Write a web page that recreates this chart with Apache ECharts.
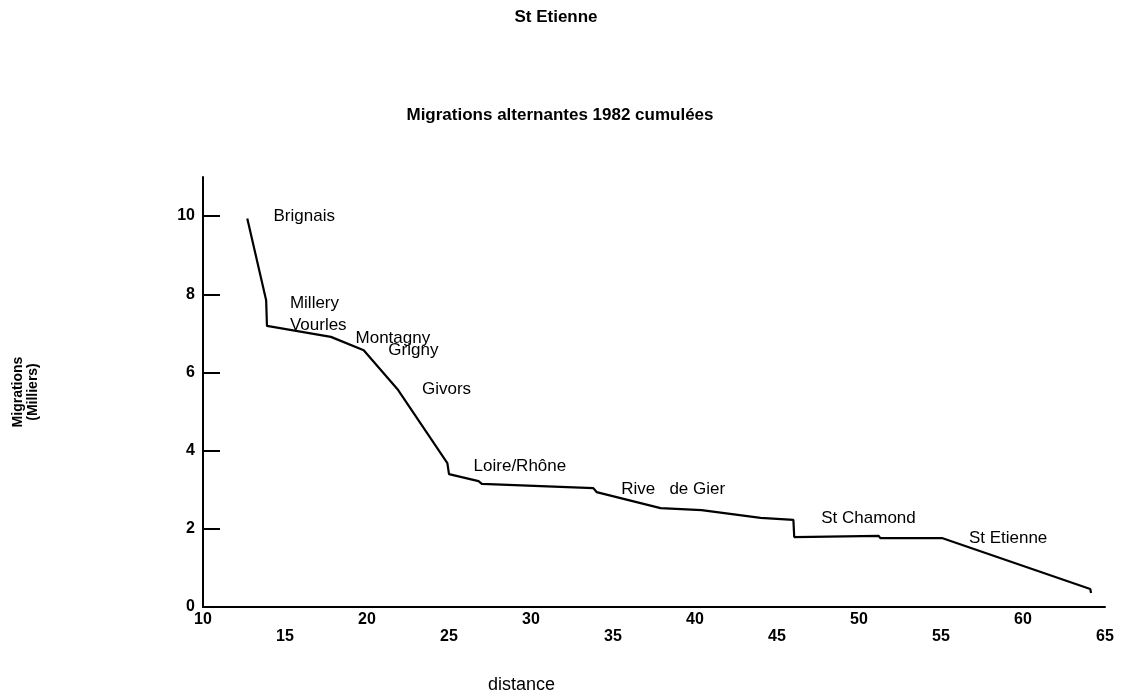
<!DOCTYPE html>
<html>
<head>
<meta charset="utf-8">
<script src="https://cdn.jsdelivr.net/npm/echarts@6/dist/echarts.min.js"></script>
<style>
html,body{margin:0;padding:0;background:#fff;}
#chart{width:1123px;height:697px;}
</style>
</head>
<body>
<div id="chart"></div>
<script>
// Distance (km) and cumulated commuting migrations (thousands)
var distance = [12.7, 13.85, 13.9, 17.8, 19.8, 21.9, 24.9, 25.0, 26.8, 27.0, 33.8, 34.0, 37.9, 40.4, 44.0, 44.1, 46.0, 46.05, 51.2, 51.3, 55.1, 64.1, 64.15];
var migrations = [9.94, 7.85, 7.19, 6.91, 6.57, 5.55, 3.68, 3.40, 3.22, 3.15, 3.04, 2.94, 2.53, 2.48, 2.28, 2.23, 2.23, 1.79, 1.82, 1.76, 1.76, 0.46, 0.36];

// Town annotations
var townNames = ['Brignais', 'Millery', 'Vourles', 'Montagny', 'Grigny', 'Givors', 'Loire/Rhône', 'Rive   de Gier', 'St Chamond', 'St Etienne'];
var townX = [14.3, 15.3, 15.3, 19.3, 21.3, 23.35, 26.5, 35.5, 47.7, 56.7];
var townY = [10.0, 7.77, 7.2, 6.88, 6.57, 5.58, 3.61, 3.02, 2.28, 1.76];

var xTicks = [10, 15, 20, 25, 30, 35, 40, 45, 50, 55, 60, 65];
var yTicks = [0, 2, 4, 6, 8, 10];

var mainTitle = 'St Etienne';
var subTitle = 'Migrations alternantes 1982 cumulées';
var yName = 'Migrations\n(Milliers)';
var xName = 'distance';

var FONT = 'Liberation Sans';

var lineData = distance.map(function (d, i) { return [d, migrations[i]]; });
var townData = townNames.map(function (n, i) { return { name: n, value: [townX[i], townY[i]] }; });

var chart = echarts.init(document.getElementById('chart'));
chart.setOption({
  animation: false,
  backgroundColor: '#fff',
  title: [
    { text: mainTitle, left: 551, top: 4, textAlign: 'center',
      textStyle: { fontFamily: FONT, fontSize: 17, fontWeight: 'bold', color: '#000' } },
    { text: subTitle, left: 555, top: 102, textAlign: 'center',
      textStyle: { fontFamily: FONT, fontSize: 17, fontWeight: 'bold', color: '#000' } }
  ],
  graphic: [
    { type: 'text', left: 488, top: 676,
      style: { text: xName, fontFamily: FONT, fontSize: 18, fill: '#000' } }
  ],
  grid: { left: 203, right: 18, top: 177, bottom: 90 },
  xAxis: {
    type: 'value', min: 10, max: 65, interval: 5,
    splitLine: { show: false },
    axisLine: { lineStyle: { color: '#000', width: 2 } },
    axisTick: { show: false },
    axisLabel: {
      margin: 5,
      customValues: xTicks,
      fontFamily: FONT, fontSize: 16, fontWeight: 'bold', color: '#000',
      formatter: function (v) {
        return (Math.round(v / 5) % 2 === 0) ? '{a|' + v + '}' : '{b|' + v + '}';
      },
      rich: {
        a: { fontFamily: FONT, fontSize: 16, fontWeight: 'bold', color: '#000' },
        b: { fontFamily: FONT, fontSize: 16, fontWeight: 'bold', color: '#000', padding: [17, 0, 0, 0] }
      }
    }
  },
  yAxis: {
    type: 'value', min: 0, max: 11, interval: 2,
    name: yName, nameLocation: 'middle', nameRotate: 90, nameGap: 162,
    nameTextStyle: { fontFamily: FONT, fontSize: 14, fontWeight: 'bold', color: '#000', lineHeight: 15 },
    splitLine: { show: false },
    axisLine: { lineStyle: { color: '#000', width: 2 } },
    axisTick: { inside: true, length: 17, customValues: yTicks, lineStyle: { color: '#000', width: 2 } },
    axisLabel: {
      margin: 8,
      customValues: yTicks,
      fontFamily: FONT, fontSize: 16, fontWeight: 'bold', color: '#000'
    }
  },
  series: [
    {
      type: 'line', data: lineData, symbol: 'none',
      lineStyle: { color: '#000', width: 2.2 }, z: 3
    },
    {
      type: 'scatter', data: townData, symbolSize: 0, silent: true,
      itemStyle: { opacity: 1, color: '#000' },
      label: {
        show: true, position: 'right', distance: 0, opacity: 1,
        formatter: function (p) { return p.name; },
        fontFamily: FONT, fontSize: 17, color: '#000'
      },
      emphasis: { disabled: true }, z: 4
    }
  ]
});
</script>
</body>
</html>
